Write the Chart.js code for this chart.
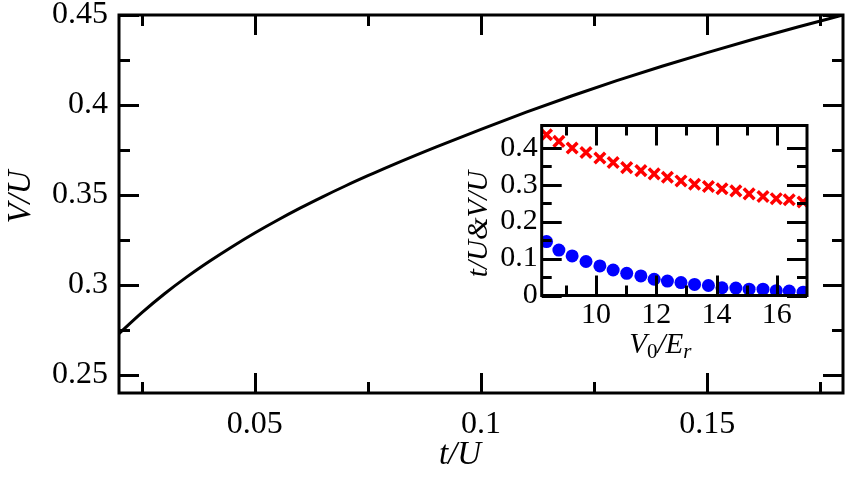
<!DOCTYPE html>
<html><head><meta charset="utf-8">
<script src="https://cdn.jsdelivr.net/npm/chart.js@4/dist/chart.umd.min.js"></script>
<style>
html,body{margin:0;padding:0;background:#fff;overflow:hidden}
#wrap{position:relative;width:846px;height:480px;background:#fff}
#main{position:absolute;left:0;top:0}
#inset{position:absolute;left:440px;top:100px}
</style></head>
<body><div id="wrap"><canvas id="main" width="846" height="480"></canvas><canvas id="inset" width="400" height="280"></canvas></div>
<script>
// ---- main panel data ----
const curveT = [0.02, 0.025, 0.03, 0.035, 0.04, 0.045, 0.05, 0.055, 0.06, 0.065, 0.07, 0.075, 0.08, 0.09, 0.1, 0.11, 0.12, 0.13, 0.14, 0.15, 0.16, 0.17, 0.18];
const curveV = [0.273, 0.2845, 0.2950, 0.3045, 0.3132, 0.3213, 0.3289, 0.3360, 0.3427, 0.3490, 0.3550, 0.3607, 0.3662, 0.3766, 0.3865, 0.3960, 0.4050, 0.4135, 0.4215, 0.4291, 0.4364, 0.4433, 0.4500];
const mainXTicks = [0.05, 0.1, 0.15];
const mainXTickLabels = ['0.05', '0.1', '0.15'];
const mainXMinor = [0.025, 0.075, 0.125, 0.175];
const mainYTicks = [0.25, 0.3, 0.35, 0.4, 0.45];
const mainYTickLabels = ['0.25', '0.3', '0.35', '0.4', '0.45'];
const mainYMinor = [0.275, 0.325, 0.375, 0.425];
const mainXTitle = 't/U';
const mainYTitle = 'V/U';

// ---- inset data ----
const insetV0Er = [8.36, 8.77, 9.21, 9.67, 10.13, 10.57, 11.02, 11.49, 11.93, 12.37, 12.82, 13.27, 13.73, 14.18, 14.64, 15.08, 15.54, 15.98, 16.41, 16.87];
const insetVU = [0.435, 0.417, 0.399, 0.387, 0.372, 0.360, 0.346, 0.338, 0.329, 0.320, 0.310, 0.301, 0.295, 0.289, 0.283, 0.275, 0.268, 0.262, 0.259, 0.253];
const insetTU = [0.146, 0.123, 0.107, 0.092, 0.080, 0.069, 0.060, 0.053, 0.044, 0.039, 0.035, 0.030, 0.027, 0.021, 0.020, 0.017, 0.017, 0.013, 0.012, 0.009];
const insetXTicks = [10, 12, 14, 16];
const insetXTickLabels = ['10', '12', '14', '16'];
const insetXMinor = [9, 11, 13, 15];
const insetYTicks = [0, 0.1, 0.2, 0.3, 0.4];
const insetYTickLabels = ['0', '0.1', '0.2', '0.3', '0.4'];
const insetYMinor = [0.05, 0.15, 0.25, 0.35];
const insetYTitle = 't/U&V/U';
const insetXTitleParts = ['V', '0', '/E', 'r'];

const SERIF = "'Liberation Serif', 'Times New Roman', serif";

const framePlugin = {
  id: 'frame',
  afterDatasetsDraw(chart, args, o) {
    const {ctx, chartArea: a, scales: {x, y}} = chart;
    ctx.save();
    ctx.strokeStyle = '#000';
    ctx.lineWidth = o.lineWidth;
    ctx.lineCap = 'butt';
    ctx.beginPath();
    const xt = (vals, len) => vals.forEach(v => {
      const p = Math.round(x.getPixelForValue(v)) + 0.5;
      ctx.moveTo(p, a.bottom); ctx.lineTo(p, a.bottom - len);
      ctx.moveTo(p, a.top); ctx.lineTo(p, a.top + len);
    });
    const yt = (vals, len) => vals.forEach(v => {
      const p = Math.round(y.getPixelForValue(v)) + 0.5;
      ctx.moveTo(a.left, p); ctx.lineTo(a.left + len, p);
      ctx.moveTo(a.right, p); ctx.lineTo(a.right - len, p);
    });
    xt(o.xMajor, o.major); xt(o.xMinor, o.minor);
    yt(o.yMajor, o.major); yt(o.yMinor, o.minor);
    ctx.stroke();
    ctx.strokeRect(a.left, a.top, a.right - a.left, a.bottom - a.top);
    ctx.restore();
  }
};

// rich text: segments {t, size, italic, dy}
function drawRich(ctx, segs, cx, cy, rot) {
  ctx.save();
  ctx.translate(cx, cy);
  if (rot) ctx.rotate(rot);
  ctx.fillStyle = '#000';
  ctx.textBaseline = 'middle';
  ctx.textAlign = 'left';
  let w = 0;
  segs.forEach(s => { ctx.font = (s.italic ? 'italic ' : '') + s.size + 'px ' + SERIF; s.w = ctx.measureText(s.t).width; w += s.w; });
  let xx = -w / 2;
  segs.forEach(s => { ctx.font = (s.italic ? 'italic ' : '') + s.size + 'px ' + SERIF; ctx.fillText(s.t, xx, s.dy || 0); xx += s.w; });
  ctx.restore();
}

const titlePlugin = {
  id: 'titles',
  afterDraw(chart, args, o) {
    const a = chart.chartArea;
    (o.items || []).forEach(it => drawRich(chart.ctx, it.segs, (a.left + a.right) / 2 + it.dx, it.cy, it.rot));
  }
};

const tickFont = size => ({family: SERIF, size: size});
const noPadY = w => s => { s.width = w; s.paddingTop = 0; s.paddingBottom = 0; };
const noPadX = h => s => { s.height = h; s.paddingLeft = 0; s.paddingRight = 0; };

new Chart(document.getElementById('main'), {
  type: 'scatter',
  data: {datasets: [{
    data: curveT.map((t, i) => ({x: t, y: curveV[i]})),
    showLine: true, borderColor: '#000', borderWidth: 3, pointRadius: 0,
    cubicInterpolationMode: 'monotone', fill: false
  }]},
  options: {
    responsive: false, animation: false, devicePixelRatio: 1,
    layout: {padding: {top: 15, right: 3, left: 0, bottom: 0}},
    plugins: {
      legend: {display: false}, tooltip: {enabled: false},
      frame: {lineWidth: 3, major: 20, minor: 11, xMajor: mainXTicks, xMinor: mainXMinor, yMajor: mainYTicks, yMinor: mainYMinor},
      titles: {items: [
        {segs: [{t: mainXTitle, size: 33, italic: true}], dx: -21, cy: 455, rot: 0},
        {segs: [{t: mainYTitle, size: 33, italic: true}], dx: -460, cy: 197, rot: -Math.PI / 2}
      ]}
    },
    scales: {
      x: {
        type: 'linear', min: 0.02, max: 0.18,
        grid: {display: false, drawTicks: false}, border: {display: false},
        afterBuildTicks: s => { s.ticks = mainXTicks.map(v => ({value: v})); },
        afterFit: noPadX(87),
        ticks: {color: '#000', font: tickFont(32), padding: 12, maxRotation: 0, autoSkip: false,
          callback: (v, i) => mainXTickLabels[i]}
      },
      y: {
        type: 'linear', min: 0.24, max: 0.45,
        grid: {display: false, drawTicks: false}, border: {display: false},
        afterBuildTicks: s => { s.ticks = mainYTicks.map(v => ({value: v})); },
        afterFit: noPadY(119),
        ticks: {color: '#000', font: tickFont(32), padding: 11, autoSkip: false,
          callback: (v, i) => mainYTickLabels[i]}
      }
    }
  },
  plugins: [framePlugin, titlePlugin]
});

new Chart(document.getElementById('inset'), {
  type: 'scatter',
  data: {datasets: [
    {data: insetV0Er.map((v, i) => ({x: v, y: insetVU[i]})), pointStyle: 'crossRot', pointRadius: 7.5,
     borderColor: '#ff0000', backgroundColor: '#ff0000', pointBorderWidth: 3.5, showLine: false},
    {data: insetV0Er.map((v, i) => ({x: v, y: insetTU[i]})), pointStyle: 'circle', pointRadius: 6.5,
     borderColor: '#0000ff', backgroundColor: '#0000ff', pointBorderWidth: 0, showLine: false}
  ]},
  options: {
    responsive: false, animation: false, devicePixelRatio: 1,
    layout: {padding: {top: 25.5, right: 33, left: 0, bottom: 0}},
    plugins: {
      legend: {display: false}, tooltip: {enabled: false},
      frame: {lineWidth: 3, major: 20, minor: 10, xMajor: insetXTicks, xMinor: insetXMinor, yMajor: insetYTicks, yMinor: insetYMinor},
      titles: {items: [
        {segs: [{t: insetXTitleParts[0], size: 29, italic: true}, {t: insetXTitleParts[1], size: 21, dy: 7},
                {t: insetXTitleParts[2], size: 29, italic: true}, {t: insetXTitleParts[3], size: 21, italic: true, dy: 7}],
         dx: -14, cy: 245, rot: 0},
        {segs: [{t: insetYTitle, size: 29, italic: true}], dx: -195, cy: 124, rot: -Math.PI / 2}
      ]}
    },
    scales: {
      x: {
        type: 'linear', min: 8.2, max: 17,
        grid: {display: false, drawTicks: false}, border: {display: false},
        afterBuildTicks: s => { s.ticks = insetXTicks.map(v => ({value: v})); },
        afterFit: noPadX(84.5),
        ticks: {color: '#000', font: tickFont(30), padding: 2, maxRotation: 0, autoSkip: false,
          callback: (v, i) => insetXTickLabels[i]}
      },
      y: {
        type: 'linear', min: 0, max: 0.46,
        grid: {display: false, drawTicks: false}, border: {display: false},
        afterBuildTicks: s => { s.ticks = insetYTicks.map(v => ({value: v})); },
        afterFit: noPadY(101.7),
        ticks: {color: '#000', font: tickFont(30), padding: 4, autoSkip: false,
          callback: (v, i) => insetYTickLabels[i]}
      }
    }
  },
  plugins: [framePlugin, titlePlugin]
});
</script>
</body></html>
